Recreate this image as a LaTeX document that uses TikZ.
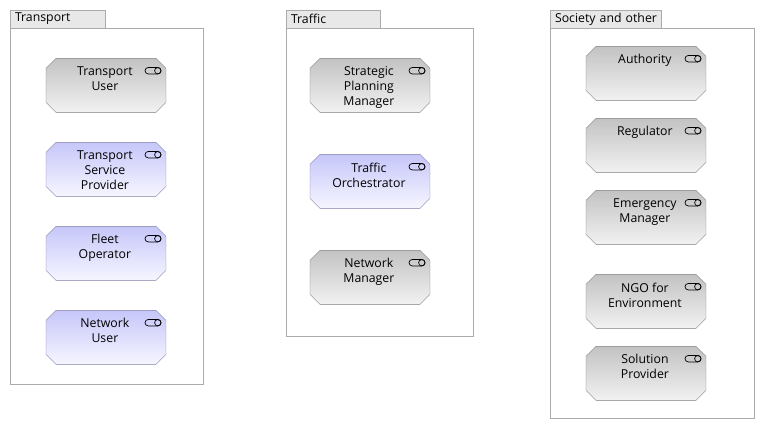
\documentclass[tikz,border=0pt]{standalone}
\usepackage{fontspec}
\setmainfont{Open Sans}
\usepackage{xcolor}
\usetikzlibrary{positioning,calc}
\definecolor{PkgLine}{HTML}{ABABAB}
\definecolor{PkgTab}{HTML}{E8E8E8}
\definecolor{GreyLine}{HTML}{7F7F7F}
\definecolor{GreyTop}{HTML}{C2C2C2}
\definecolor{GreyEnd}{HTML}{F2F2F2}
\definecolor{BlueLine}{HTML}{7F7FA6}
\definecolor{BlueTop}{HTML}{C6C6FA}
\definecolor{BlueEnd}{HTML}{F6F6FF}
\newcommand{\octagon}[3]{\path[draw=#1,top color=#2,bottom color=#3]
  ($(path picture bounding box.north west)+(10.5,0.5)$) -- ($(path picture bounding box.north east)+(-10.5,0.5)$)
  -- ($(path picture bounding box.north east)+(-0.5,10.5)$) -- ($(path picture bounding box.south east)+(-0.5,-10.5)$)
  -- ($(path picture bounding box.south east)+(-10.5,-0.5)$) -- ($(path picture bounding box.south west)+(10.5,-0.5)$)
  -- ($(path picture bounding box.south west)+(0.5,-10.5)$) -- ($(path picture bounding box.north west)+(0.5,10.5)$) -- cycle;}
\begin{document}
\begin{tikzpicture}[
  x=1pt,y=-1pt,
  every node/.style={font=\fontsize{12.3}{15}\selectfont,align=center,outer sep=0pt},
  pkgtab/.style={draw=PkgLine,fill=PkgTab,anchor=south west,inner xsep=4.5pt,inner ysep=0pt,minimum height=18pt,text width=#1,align=left},
  pkgbody/.style={draw=PkgLine,anchor=north west},
  rolelabel/.style={anchor=north,yshift=-5.5pt,xshift=-1.1pt},
  role/.style={inner sep=0pt,minimum width=121pt,minimum height=55pt,label={[rolelabel]north:{#1}}},
  greyrole/.style={role={#1},path picture={\octagon{GreyLine}{GreyTop}{GreyEnd}}},
  bluerole/.style={role={#1},path picture={\octagon{BlueLine}{BlueTop}{BlueEnd}}},
  roleicon/.style={draw=black,line width=0.7pt}
]
\useasboundingbox (0,0) rectangle (765,429);
% transport
\node[pkgtab=86pt] (transporttab) at (10.5,28) {\raisebox{-1.5pt}{Transport}};
\node[pkgbody,minimum width=193pt,minimum height=356pt] (transport) at (transporttab.south west) {};
\node[greyrole={Transport\\User},anchor=north] (tuser) at (106,57.8) {};
\node[bluerole={Transport\\Service\\Provider},below=29pt of tuser] (provider) {};
\node[bluerole={Fleet\\Operator},below=29pt of provider] (fleet) {};
\node[bluerole={Network\\User},below=29pt of fleet] (nuser) {};
% traffic
\node[pkgtab=85pt] (traffictab) at (286.5,28) {\raisebox{-1.5pt}{Traffic}};
\node[pkgbody,minimum width=187pt,minimum height=308pt] (traffic) at (traffictab.south west) {};
\node[greyrole={Strategic\\Planning\\Manager},anchor=north] (planning) at (370,57.8) {};
\node[bluerole={Traffic\\Orchestrator},below=41pt of planning] (orchestrator) {};
\node[greyrole={Network\\Manager},below=41pt of orchestrator] (nmanager) {};
% society
\node[pkgtab=102pt] (societytab) at (550.5,28) {\raisebox{-1.5pt}{Society and other}};
\node[pkgbody,minimum width=204pt,minimum height=390pt] (society) at (societytab.south west) {};
\node[greyrole={Authority},anchor=north] (authority) at (646,45.8) {};
\node[greyrole={Regulator},below=17pt of authority] (regulator) {};
\node[greyrole={Emergency\\Manager},below=17pt of regulator] (emergency) {};
\node[greyrole={NGO for\\Environment},below=29pt of emergency] (ngo) {};
\node[greyrole={Solution\\Provider},below=17pt of ngo] (solution) {};
% role icons
\foreach \r in {tuser,provider,fleet,nuser,planning,orchestrator,nmanager,authority,regulator,emergency,ngo,solution}{
  \draw[roleicon,rounded corners=3.2pt] ($(\r.north)+(39,9.7)$) rectangle ($(\r.north)+(55,16.1)$);
  \draw[roleicon] ($(\r.north)+(51.8,12.9)$) circle (3.2pt);
}
\end{tikzpicture}
\end{document}
